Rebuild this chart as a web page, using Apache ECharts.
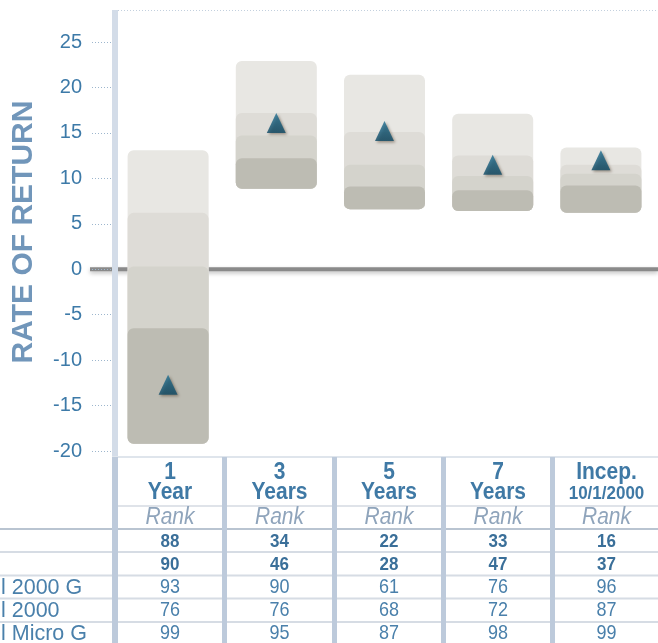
<!DOCTYPE html>
<html>
<head>
<meta charset="utf-8">
<script src="https://cdn.jsdelivr.net/npm/echarts@6/dist/echarts.min.js"></script>
<style>
html,body{margin:0;padding:0;background:#fff;}
#c{width:658px;height:643px;}
</style>
</head>
<body>
<div id="c"></div>
<script>
// ---- data ----
var categories = ['1 Year', '3 Years', '5 Years', '7 Years', 'Incep.'];
var bandMax    = [13.1, 22.9, 21.4, 17.1, 13.4];
var band75     = [6.2, 17.2, 15.1, 12.5, 11.5];
var band50     = [0.3, 14.7, 11.5, 10.25, 10.5];
var band25     = [-6.5, 12.2, 9.1, 8.7, 9.2];
var bandMin    = [-19.2, 8.85, 6.6, 6.4, 6.2];
var fundReturn = [-12.7, 16.1, 15.2, 11.5, 12.0];

var headerLine1 = ['1', '3', '5', '7', 'Incep.'];
var headerLine2 = ['Year', 'Years', 'Years', 'Years', '10/1/2000'];
var rankLabel = 'Rank';
var rankRowLabels = ['', '', 'l 2000 G', 'l 2000', 'l Micro G'];
var rankRow1 = [88, 34, 22, 33, 16];
var rankRow2 = [90, 46, 28, 47, 37];
var rankRow3 = [93, 90, 61, 76, 96];
var rankRow4 = [76, 76, 68, 72, 87];
var rankRow5 = [99, 95, 87, 98, 99];
var yTickMin = -20, yTickMax = 25, yTickStep = 5;
var axisTitle = 'RATE OF RETURN';

// ---- styles ----
var FONT = '"Liberation Sans", Arial, sans-serif';
var bandColors = ['#e8e7e3', '#dedcd7', '#d4d3cc', '#bdbcb3'];

var chart = echarts.init(document.getElementById('c'));

var boxData = categories.map(function (c, i) {
  return [i, bandMin[i], band25[i], band50[i], band75[i], bandMax[i]];
});

function renderBox(params, api) {
  var i = api.value(0);
  var lo = api.value(1);
  var tops = [api.value(5), api.value(4), api.value(3), api.value(2)];
  var bw = 81;
  var pBottom = api.coord([i, lo]);
  var children = [];
  for (var k = 0; k < 4; k++) {
    var pTop = api.coord([i, tops[k]]);
    children.push({
      type: 'rect',
      shape: { x: pBottom[0] - bw / 2, y: pTop[1], width: bw, height: pBottom[1] - pTop[1], r: 6 },
      style: { fill: bandColors[k] }
    });
  }
  return { type: 'group', children: children };
}

var option = {
  animation: false,
  grid: { left: 114, right: 3, top: 42, bottom: 192 },
  xAxis: {
    type: 'category',
    data: categories,
    show: false
  },
  yAxis: {
    type: 'value',
    min: yTickMin, max: yTickMax, interval: yTickStep,
    axisLine: { show: false },
    axisTick: { show: true, length: 22, lineStyle: { color: '#9db6cd', type: [1, 2], width: 1 } },
    splitLine: { show: false },
    axisLabel: { margin: 32, color: '#3d7aa8', fontSize: 20, fontFamily: FONT }
  },
  series: [
    {
      type: 'custom',
      renderItem: renderBox,
      data: boxData,
      encode: { x: 0, y: [1, 5] },
      z: 2
    },
    {
      type: 'scatter',
      data: fundReturn.map(function (v, i) { return [i, v]; }),
      symbol: 'triangle',
      symbolSize: [19, 20],
      itemStyle: {
        color: new echarts.graphic.LinearGradient(0, 0, 0, 1, [
          { offset: 0, color: '#1f6f92' },
          { offset: 1, color: '#0c4864' }
        ]),
        shadowBlur: 3,
        shadowColor: 'rgba(60,40,20,0.55)',
        shadowOffsetX: 1.5,
        shadowOffsetY: 1.5
      },
      z: 5
    }
  ]
};
chart.setOption(option);

// ---- decorations & table ----
var zeroY = chart.convertToPixel({ yAxisIndex: 0 }, 0);
var g = [];
g.push({
  type: 'line', z: 0,
  shape: { x1: 90, y1: zeroY, x2: 658, y2: zeroY },
  style: { stroke: '#8a8a8a', lineWidth: 4, shadowBlur: 4, shadowColor: 'rgba(0,0,0,0.25)', shadowOffsetY: 2 }
});
g.push({ type: 'rect', z: 1, shape: { x: 112, y: 10, width: 6, height: 447 }, style: { fill: '#d3dce8' } });
g.push({ type: 'line', z: 1, shape: { x1: 118, y1: 10.5, x2: 658, y2: 10.5 }, style: { stroke: '#c3d0de', lineWidth: 1, lineDash: [1, 2] } });

var hLines = [
  { y: 457, x1: 112, c: '#dfe5ec' },
  { y: 506, x1: 118, c: '#dfe3e9' },
  { y: 529, x1: 0, c: '#b9c4d1' },
  { y: 552, x1: 0, c: '#d6dce4' },
  { y: 575.5, x1: 0, c: '#d6dce4' },
  { y: 598.5, x1: 0, c: '#d6dce4' },
  { y: 622, x1: 0, c: '#d6dce4' }
];
hLines.forEach(function (l) {
  g.push({ type: 'line', z: 1, shape: { x1: l.x1, y1: l.y, x2: 658, y2: l.y }, style: { stroke: l.c, lineWidth: 2 } });
});
var seps = [[112, 6], [222, 5], [332, 5], [441, 5], [550, 5]];
seps.forEach(function (s) {
  g.push({ type: 'rect', z: 2, shape: { x: s[0], y: 457, width: s[1], height: 186 }, style: { fill: '#bdcadb' } });
});
var colX = [170, 279.5, 389, 498, 606.5];

function txt(x, y, text, font, color, align, sy) {
  return {
    type: 'text', z: 3, x: x, y: y, scaleY: sy || 1.1,
    style: { text: String(text), font: font, fill: color, align: align || 'center', verticalAlign: 'middle' }
  };
}
for (var i = 0; i < categories.length; i++) {
  var x = colX[i];
  g.push(txt(x, 473, headerLine1[i], 'bold 21px ' + FONT, '#3f79a5'));
  var isInc = headerLine2[i].indexOf('/') >= 0;
  g.push(txt(x, isInc ? 494 : 493, headerLine2[i], 'bold ' + (isInc ? 17 : 21) + 'px ' + FONT, '#3f79a5'));
  g.push(txt(x, 518, rankLabel, 'italic 21px ' + FONT, '#8fa4bb'));
  g.push(txt(x, 541.5, rankRow1[i], 'bold 17px ' + FONT, '#3a6f99'));
  g.push(txt(x, 564.5, rankRow2[i], 'bold 17px ' + FONT, '#3a6f99'));
  g.push(txt(x, 588, rankRow3[i], '18px ' + FONT, '#4a80ab'));
  g.push(txt(x, 611, rankRow4[i], '18px ' + FONT, '#4a80ab'));
  g.push(txt(x, 634, rankRow5[i], '18px ' + FONT, '#4a80ab'));
}
var rowYs = [541.5, 564.5, 588, 611, 634];
rankRowLabels.forEach(function (lab, k) {
  if (lab) g.push(txt(1, rowYs[k], lab, '21.5px ' + FONT, '#4a80ab', 'left', 1.05));
});
g.push({
  type: 'text', z: 3, x: 24, y: 232, rotation: Math.PI / 2,
  style: { text: axisTitle, font: 'bold 30px ' + FONT, fill: '#7196ba', align: 'center', verticalAlign: 'middle' }
});

chart.setOption({ graphic: { elements: g } });
</script>
</body>
</html>
